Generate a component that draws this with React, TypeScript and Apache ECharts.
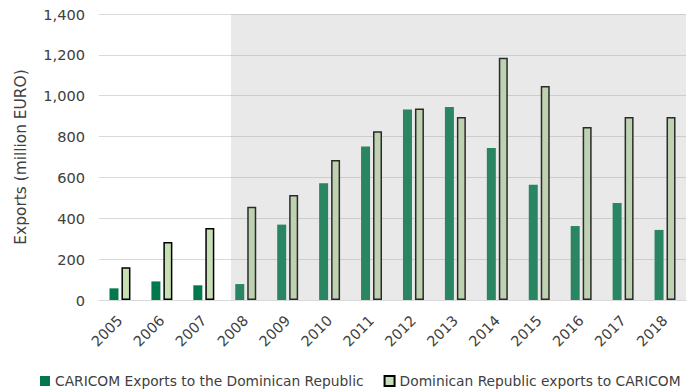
import React, { useEffect, useRef } from "react";
import * as echarts from "echarts";

const years = ["2005", "2006", "2007", "2008", "2009", "2010", "2011", "2012", "2013", "2014", "2015", "2016", "2017", "2018"];
const caricomToDR = [57, 91, 72, 78, 369, 571, 752, 933, 945, 744, 564, 362, 475, 343];
const drToCaricom = [160, 284, 352, 457, 514, 685, 826, 938, 896, 1186, 1047, 847, 896, 896];
const yTicks = [0, 200, 400, 600, 800, 1000, 1200, 1400];

const seriesNames = [
  "CARICOM Exports to the Dominican Republic",
  "Dominican Republic exports to CARICOM",
];
// period highlighted with a grey veil, from this year to the end
const shadeFromYear = "2008";

const FONT = "DejaVu Sans";
const TEXT = "#404040";

export default function App() {
  const ref = useRef<HTMLDivElement>(null);

  useEffect(() => {
    if (!ref.current) return;
    const chart = echarts.init(ref.current, undefined, { renderer: "svg" });
    chart.setOption({
      animation: false,
      grid: { left: 99, right: 4, top: 14, bottom: 92 },
      legend: {
        data: seriesNames,
        left: 40,
        top: 374,
        width: 690,
        padding: 0,
        itemWidth: 10,
        itemHeight: 10,
        itemGap: 20,
        icon: "rect",
        textStyle: { fontFamily: FONT, fontSize: 13.8, color: TEXT },
      },
      xAxis: {
        type: "category",
        data: years,
        axisTick: { show: false },
        axisLine: { lineStyle: { color: "#d9d9d9", width: 1 } },
        axisLabel: {
          rotate: 45,
          margin: 18,
          fontFamily: FONT,
          fontSize: 14.4,
          color: TEXT,
          interval: 0,
        },
      },
      yAxis: {
        type: "value",
        min: yTicks[0],
        max: yTicks[yTicks.length - 1],
        interval: 200,
        name: "Exports (million EURO)",
        nameLocation: "middle",
        nameGap: 71,
        nameTextStyle: { fontFamily: FONT, fontSize: 15.4, color: TEXT },
        axisLabel: {
          fontFamily: FONT,
          fontSize: 14.6,
          color: TEXT,
          margin: 14,
          formatter: (v: number) => v.toLocaleString("en-US"),
        },
        splitLine: { lineStyle: { color: "#d9d9d9", width: 1 } },
      },
      series: [
        {
          name: seriesNames[0],
          type: "bar",
          data: caricomToDR,
          barWidth: 9,
          barGap: "33%",
          itemStyle: { color: "#007a4c" },
        },
        {
          name: seriesNames[1],
          type: "bar",
          data: drToCaricom,
          barWidth: 9,
          itemStyle: { color: "#c6e0b4", borderColor: "#000", borderWidth: 1.5 },
        },
        {
          type: "custom",
          z: 10,
          silent: true,
          data: [[shadeFromYear, 0]],
          encode: { x: 0, y: 1 },
          renderItem: (params: any, api: any) => {
            const cs = params.coordSys;
            const band = api.size([1, 0])[0];
            const x0 = api.coord([api.value(0), 0])[0] - 0.35 * band;
            return {
              type: "rect",
              shape: { x: x0, y: cs.y, width: cs.x + cs.width - x0, height: cs.height },
              style: { fill: "rgba(168,168,168,0.25)" },
            };
          },
        },
      ],
    });
    return () => chart.dispose();
  }, []);

  return (
    <div
      ref={ref}
      style={{ position: "fixed", left: 0, top: 0, width: 690, height: 392, background: "#fff" }}
    />
  );
}
